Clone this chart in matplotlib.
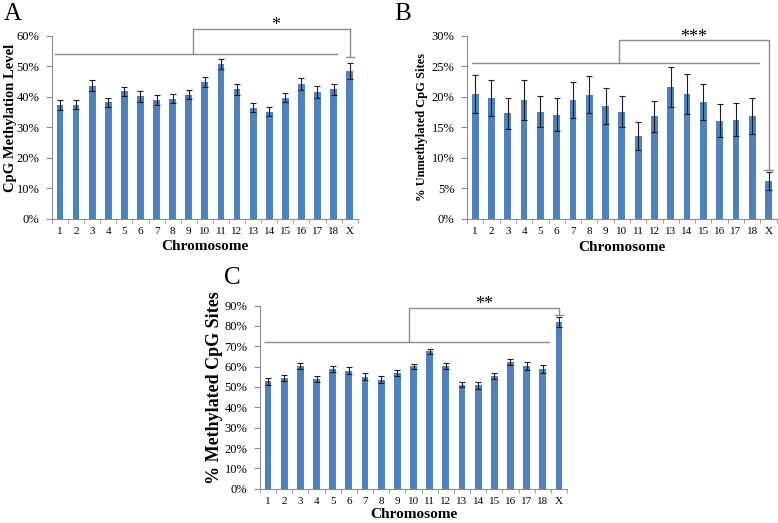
import matplotlib
matplotlib.use('Agg')
import matplotlib.pyplot as plt
import numpy as np

plt.rcParams['font.family'] = ['Liberation Serif', 'DejaVu Serif']

chromosomes = [str(i) for i in range(1, 19)] + ['X']

# Panel A - CpG methylation level (%)
meth_level = [37.4, 37.4, 43.6, 38.3, 41.8, 40.3, 39.0, 39.4, 40.8, 44.9,
              50.7, 42.5, 36.5, 35.2, 39.7, 44.2, 41.7, 42.5, 48.5]
meth_level_err = [1.6, 1.5, 1.8, 1.5, 1.6, 1.8, 1.6, 1.5, 1.6, 1.6,
                  1.6, 1.8, 1.4, 1.5, 1.5, 1.9, 1.9, 1.7, 2.5]

# Panel B - % unmethylated CpG sites
unmeth = [20.5, 19.8, 17.3, 19.5, 17.6, 17.1, 19.5, 20.4, 18.5, 17.6,
          13.6, 16.8, 21.6, 20.5, 19.2, 16.1, 16.3, 16.9, 6.2]
unmeth_err = [3.1, 3.0, 2.5, 3.2, 2.5, 2.7, 3.0, 3.1, 3.0, 2.6,
              2.3, 2.6, 3.3, 3.3, 3.0, 2.7, 2.7, 2.9, 1.5]

# Panel C - % methylated CpG sites
meth = [52.8, 54.4, 60.2, 53.9, 58.7, 58.0, 55.1, 53.6, 56.9, 60.2,
        67.5, 60.2, 51.1, 50.8, 55.4, 62.3, 60.2, 58.9, 82.0]
meth_err = [1.8, 1.6, 1.5, 1.5, 1.5, 1.6, 1.6, 1.6, 1.4, 1.3,
            1.3, 1.4, 1.2, 1.8, 1.4, 1.5, 1.9, 1.9, 2.3]

BLUE = '#4f81bd'
GRAY = '#8c8c8c'

fig = plt.figure(figsize=(7.78, 5.23), dpi=100)


def panel(rect, vals, errs, ymax, ystep, ylabel, ylab_size, ylab_xy, xlab_y, letter,
          letter_xy, bracket, stars):
    ax = fig.add_axes(rect)
    x = np.arange(len(chromosomes))
    ax.bar(x, vals, width=0.42, color=BLUE, zorder=2)
    ax.errorbar(x, vals, yerr=errs, fmt='none', ecolor='#1a1a2e', elinewidth=0.8,
                capsize=2, capthick=0.8, zorder=3)
    ax.set_xlim(-0.5, 18.5)
    ax.set_ylim(0, ymax)
    ticks = np.arange(0, ymax + 0.01, ystep)
    ax.set_yticks(ticks)
    ax.set_yticklabels(['%d%%' % t for t in ticks], fontsize=9)
    ax.set_xticks(x)
    ax.set_xticklabels(chromosomes, fontsize=8)
    ax.set_xticks(np.arange(-0.5, 18.6, 1), minor=True)
    ax.tick_params(axis='x', which='major', length=0, pad=6)
    ax.tick_params(axis='x', which='minor', length=3, color=GRAY, direction='out')
    ax.tick_params(axis='y', length=4, color=GRAY, direction='out', pad=5)
    for s in ['top', 'right']:
        ax.spines[s].set_visible(False)
    for s in ['left', 'bottom']:
        ax.spines[s].set_color(GRAY)
        ax.spines[s].set_linewidth(0.8)
    ax.set_ylabel(ylabel, fontsize=ylab_size, fontweight='bold')
    ax.yaxis.set_label_coords(*ylab_xy)
    ax.set_xlabel('Chromosome', fontsize=11, fontweight='bold')
    ax.xaxis.set_label_coords(0.5, xlab_y)
    fig.text(letter_xy[0], letter_xy[1], letter, fontsize=18, ha='center', va='center')

    # significance bracket
    x0, x1, y_low, xv, y_top, y_x = bracket
    kw = dict(color=GRAY, lw=1, clip_on=False, zorder=4)
    ax.plot([x0, x1], [y_low, y_low], **kw)
    ax.plot([xv, xv, 18, 18], [y_low, y_top, y_top, y_x], **kw)
    ax.plot([17.75, 18.25], [y_x, y_x], **kw)
    ax.annotate(stars, (13.4, y_top), xytext=(0, -4), textcoords='offset points',
                fontsize=13, ha='center', va='bottom', annotation_clip=False)
    return ax


panel([0.0668, 0.5813, 0.393, 0.35], meth_level, meth_level_err, 60, 10,
      'CpG Methylation Level', 10.5, (-0.115, 0.55), -0.115, 'A', (0.016, 0.973),
      (-0.3, 17.2, 54.0, 8.25, 62.3, 53.2), '*')

panel([0.6003, 0.5813, 0.398, 0.35], unmeth, unmeth_err, 30, 5,
      '% Unmethylated CpG Sites', 9, (-0.125, 0.5), -0.12, 'B', (0.518, 0.973),
      (-0.2, 17.4, 25.5, 8.8, 29.3, 8.1), '***')

panel([0.3342, 0.0656, 0.3946, 0.35], meth, meth_err, 90, 10,
      '% Methylated CpG Sites', 13, (-0.12, 0.55), -0.105, 'C', (0.298, 0.468),
      (-0.2, 17.4, 72.1, 8.75, 89.0, 85.4), '**')

fig.savefig('out.png', dpi=100)
